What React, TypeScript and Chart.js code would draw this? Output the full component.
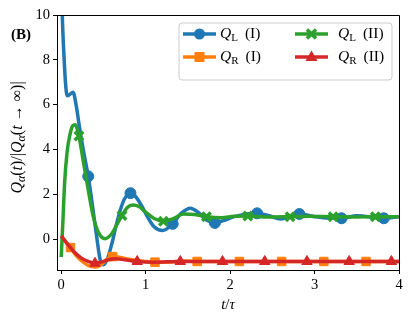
import React, { useEffect, useRef } from "react";
import { Chart, registerables } from "chart.js";

Chart.register(...registerables);

// ---- data ----
const T_QL1 = [0, 0.01, 0.02, 0.035, 0.05, 0.07, 0.1, 0.14, 0.18, 0.22, 0.27, 0.32, 0.37, 0.42, 0.46, 0.5, 0.55, 0.6, 0.65, 0.7, 0.75, 0.82, 0.88, 0.95, 1.02, 1.1, 1.2, 1.32, 1.42, 1.53, 1.62, 1.72, 1.82, 1.92, 2.05, 2.32, 2.45, 2.6, 2.82, 3.0, 3.1, 3.32, 3.5, 3.82, 4.0];
const Y_QL1 = [14, 10.5, 9.2, 8, 7, 6.4, 6.45, 6.55, 5.9, 4.9, 3.8, 2.8, 1.5, 0.1, -0.9, -1.15, -0.85, -0.2, 0.6, 1.3, 1.8, 2.05, 1.9, 1.5, 1.0, 0.55, 0.38, 0.68, 1.15, 1.38, 1.2, 0.85, 0.72, 0.82, 1.0, 1.15, 1.05, 0.9, 1.12, 1.0, 0.95, 0.93, 1.04, 0.93, 1.0];
const M_QL1 = [0.32, 0.82, 1.32, 1.82, 2.32, 2.82, 3.32, 3.82];

const T_QR1 = [0, 0.05, 0.11, 0.18, 0.25, 0.32, 0.4, 0.47, 0.54, 0.61, 0.7, 0.8, 0.9, 1.0, 1.11, 1.3, 1.45, 1.61, 2.11, 2.61, 3.11, 3.61, 4.0];
const Y_QR1 = [0.1, -0.1, -0.38, -0.75, -1.0, -1.18, -1.25, -1.15, -0.9, -0.78, -0.82, -0.9, -0.95, -1.0, -1.03, -1.02, -0.98, -1.0, -1.0, -1.0, -1.0, -1.0, -1.0];
const M_QR1 = [0.11, 0.61, 1.11, 1.61, 2.11, 2.61, 3.11, 3.61];

const T_QL2 = [0, 0.02, 0.04, 0.07, 0.1, 0.135, 0.165, 0.21, 0.26, 0.32, 0.38, 0.44, 0.52, 0.6, 0.66, 0.72, 0.78, 0.85, 0.92, 1.0, 1.1, 1.21, 1.32, 1.45, 1.58, 1.72, 1.9, 2.05, 2.21, 2.45, 2.71, 2.95, 3.22, 3.5, 3.72, 4.0];
const Y_QL2 = [-0.8, 0.8, 2.5, 3.9, 4.6, 5.05, 5.1, 4.6, 3.5, 2.2, 1.0, 0.3, 0.02, 0.25, 0.65, 1.05, 1.4, 1.52, 1.45, 1.2, 0.92, 0.8, 0.9, 1.12, 1.1, 1.0, 0.95, 1.02, 1.03, 0.98, 1.0, 1.02, 1.0, 0.99, 1.0, 1.0];
const M_QL2 = [0.21, 0.72, 1.21, 1.72, 2.21, 2.71, 3.22, 3.72];

const T_QR2 = [0, 0.08, 0.16, 0.24, 0.32, 0.4, 0.48, 0.56, 0.65, 0.75, 0.9, 1.1, 1.41, 1.91, 2.41, 2.91, 3.41, 3.91, 4.0];
const Y_QR2 = [0.15, -0.25, -0.6, -0.85, -1.0, -1.08, -1.02, -0.92, -0.88, -0.92, -1.0, -1.03, -1.0, -1.0, -1.0, -1.0, -1.0, -1.0, -1.0];
const M_QR2 = [0.4, 0.9, 1.41, 1.91, 2.41, 2.91, 3.41, 3.91];

const X_TICKS = [0, 1, 2, 3, 4];
const Y_TICKS = [0, 2, 4, 6, 8, 10];

const BLUE = "#1f77b4";
const ORANGE = "#ff7f0e";
const GREEN = "#2ca02c";
const RED = "#d62728";

const FONT = "'Liberation Serif', 'DejaVu Serif', serif";

type Seg = { t: string; it?: boolean; sub?: boolean };

function segFont(s: Seg, size: number) {
  const sz = s.sub ? Math.round(size * 0.72) : size;
  return `${s.it ? "italic " : ""}${sz}px ${FONT}`;
}

function richWidth(ctx: CanvasRenderingContext2D, segs: Seg[], size: number) {
  let w = 0;
  for (const s of segs) {
    ctx.font = segFont(s, size);
    w += ctx.measureText(s.t).width;
  }
  return w;
}

function drawRich(ctx: CanvasRenderingContext2D, segs: Seg[], x: number, y: number, size: number) {
  let cx = x;
  ctx.textBaseline = "middle";
  ctx.textAlign = "left";
  for (const s of segs) {
    ctx.font = segFont(s, size);
    ctx.fillText(s.t, cx, s.sub ? y + size * 0.25 : y);
    cx += ctx.measureText(s.t).width;
  }
}

function drawMarker(ctx: CanvasRenderingContext2D, style: string, x: number, y: number, color: string) {
  ctx.save();
  ctx.fillStyle = color;
  ctx.strokeStyle = color;
  ctx.beginPath();
  if (style === "circle") {
    ctx.arc(x, y, 5.5, 0, Math.PI * 2);
    ctx.fill();
  } else if (style === "rect") {
    ctx.fillRect(x - 5, y - 5, 10, 10);
  } else if (style === "triangle") {
    ctx.moveTo(x, y - 6.5);
    ctx.lineTo(x + 6, y + 4);
    ctx.lineTo(x - 6, y + 4);
    ctx.closePath();
    ctx.fill();
  } else {
    ctx.lineWidth = 3.5;
    ctx.moveTo(x - 4.5, y - 4.5);
    ctx.lineTo(x + 4.5, y + 4.5);
    ctx.moveTo(x + 4.5, y - 4.5);
    ctx.lineTo(x - 4.5, y + 4.5);
    ctx.stroke();
  }
  ctx.restore();
}

const LEGEND = [
  { sub: "L", suf: " (I)", color: BLUE, style: "circle", col: 0, row: 0 },
  { sub: "R", suf: " (I)", color: ORANGE, style: "rect", col: 0, row: 1 },
  { sub: "L", suf: " (II)", color: GREEN, style: "crossRot", col: 1, row: 0 },
  { sub: "R", suf: " (II)", color: RED, style: "triangle", col: 1, row: 1 },
];

const decorPlugin = {
  id: "decor",
  afterDraw(chart: any) {
    const ctx: CanvasRenderingContext2D = chart.ctx;
    const a = chart.chartArea;
    ctx.save();
    // frame top/right
    ctx.strokeStyle = "#000";
    ctx.lineWidth = 1;
    ctx.beginPath();
    ctx.moveTo(a.left, a.top + 0.5);
    ctx.lineTo(a.right + 0.5, a.top + 0.5);
    ctx.lineTo(a.right + 0.5, a.bottom);
    ctx.stroke();

    // legend box
    const bx = a.right - 220, by = a.top + 8, bw = 213, bh = 57;
    ctx.beginPath();
    ctx.roundRect(bx, by, bw, bh, 3);
    ctx.fillStyle = "rgba(255,255,255,0.8)";
    ctx.fill();
    ctx.strokeStyle = "#cccccc";
    ctx.stroke();
    for (const e of LEGEND) {
      const lx = bx + 4 + e.col * 112;
      const ly = by + 11 + e.row * 23;
      ctx.strokeStyle = e.color;
      ctx.lineWidth = 3.5;
      ctx.beginPath();
      ctx.moveTo(lx, ly);
      ctx.lineTo(lx + 33, ly);
      ctx.stroke();
      drawMarker(ctx, e.style, lx + 16.5, ly, e.color);
      ctx.fillStyle = "#000";
      drawRich(ctx, [{ t: "Q", it: true }, { t: e.sub, sub: true }, { t: "\u2009" + e.suf }], lx + 37 + e.col * 6, ly, 15.5);
    }

    // x title
    ctx.fillStyle = "#000";
    const xt: Seg[] = [{ t: "t", it: true }, { t: "/" }, { t: "τ", it: true }];
    const xw = richWidth(ctx, xt, 15);
    drawRich(ctx, xt, (a.left + a.right) / 2 - xw / 2, 305, 15);

    // y title
    const yt: Seg[] = [
      { t: "Q", it: true }, { t: "α", it: true, sub: true }, { t: "(" }, { t: "t", it: true }, { t: ")/|" },
      { t: "Q", it: true }, { t: "α", it: true, sub: true }, { t: "(" }, { t: "t", it: true }, { t: " → ∞)|" },
    ];
    const yw = richWidth(ctx, yt, 16);
    ctx.save();
    ctx.translate(18, (a.top + a.bottom) / 2 - 5);
    ctx.rotate(-Math.PI / 2);
    drawRich(ctx, yt, -yw / 2, 0, 16);
    ctx.restore();

    // panel label
    ctx.font = `bold 15px ${FONT}`;
    ctx.textAlign = "left";
    ctx.textBaseline = "middle";
    ctx.fillText("(B)", 11, 35);
    ctx.restore();
  },
};

function series(T: number[], Y: number[], M: number[], color: string, style: string, order: number) {
  const mk = new Set(M);
  return {
    data: T.map((t, i) => ({ x: t, y: Y[i] })),
    borderColor: color,
    backgroundColor: color,
    borderWidth: 3.5,
    cubicInterpolationMode: "monotone" as const,
    pointStyle: style,
    pointRadius: (c: any) => (mk.has(T[c.dataIndex]) ? (style === "circle" ? 5.5 : 6) : 0),
    pointBorderWidth: style === "crossRot" ? 3.5 : 1,
    pointBorderColor: color,
    pointBackgroundColor: color,
    order,
  };
}

export default function App() {
  const ref = useRef<HTMLCanvasElement | null>(null);
  useEffect(() => {
    document.body.style.margin = "0";
    if (!ref.current) return;
    const tickFont = { family: FONT, size: 14.5 };
    const chart = new Chart(ref.current, {
      type: "line",
      data: {
        datasets: [
          series(T_QL1, Y_QL1, M_QL1, BLUE, "circle", 4),
          series(T_QR1, Y_QR1, M_QR1, ORANGE, "rect", 3),
          series(T_QL2, Y_QL2, M_QL2, GREEN, "crossRot", 2),
          series(T_QR2, Y_QR2, M_QR2, RED, "triangle", 1),
        ] as any,
      },
      options: {
        animation: false,
        responsive: false,
        devicePixelRatio: 1,
        layout: { padding: { top: 15, right: 16, left: 0, bottom: 0 } },
        plugins: { legend: { display: false }, tooltip: { enabled: false } },
        scales: {
          x: {
            type: "linear",
            min: -0.05,
            max: 4,
            afterBuildTicks: (s: any) => {
              s.ticks = X_TICKS.map((v) => ({ value: v }));
            },
            afterFit: (s: any) => {
              s.height = 55;
            },
            grid: { drawOnChartArea: false, drawTicks: true, tickLength: 4, color: "#000", tickColor: "#000" },
            border: { display: true, color: "#000", width: 1 },
            ticks: { font: tickFont, color: "#000", padding: 2, maxRotation: 0, autoSkip: false },
          },
          y: {
            type: "linear",
            min: -1.38,
            max: 10,
            afterBuildTicks: (s: any) => {
              s.ticks = Y_TICKS.map((v) => ({ value: v }));
            },
            afterFit: (s: any) => {
              s.width = 57;
            },
            grid: { drawOnChartArea: false, drawTicks: true, tickLength: 4, color: "#000", tickColor: "#000" },
            border: { display: true, color: "#000", width: 1 },
            ticks: { font: tickFont, color: "#000", padding: 3, autoSkip: false },
          },
        },
      },
      plugins: [decorPlugin],
    });
    return () => chart.destroy();
  }, []);
  return (
    <div style={{ width: 415, height: 325 }}>
      <canvas ref={ref} width={415} height={325} />
    </div>
  );
}
